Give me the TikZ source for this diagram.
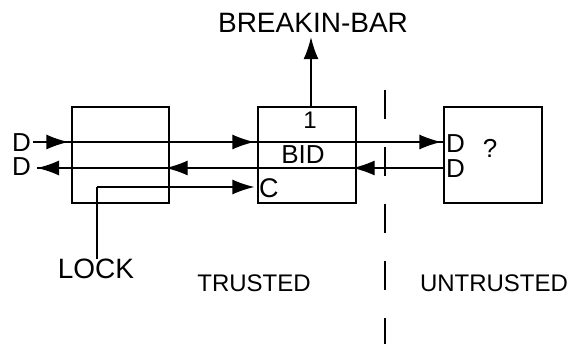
\documentclass[tikz,border=0pt]{standalone}
\usepackage{fontspec}
\setmainfont{Liberation Sans}
\usetikzlibrary{arrows.meta}
\begin{document}
\begin{tikzpicture}[x=1pt,y=-1pt,
  box/.style={draw,line width=1.3pt,inner sep=0pt,minimum height=96pt},
  lbl/.style={inner sep=0pt,anchor=base,font=\fontsize{26}{26}\selectfont},
  ln/.style={line width=1.3pt},
  arr/.style={line width=1.3pt,-{Latex[length=22pt,width=15pt]}}]
\useasboundingbox (0,0) rectangle (572,344);
% boxes
\node[box,minimum width=97pt] (A) at (120.5,155) {};
\node[box,minimum width=98pt] (B) at (307,155) {};
\node[box,minimum width=98pt] (C) at (493,155) {};
% texts
\node[lbl,font=\fontsize{28}{28}\selectfont] (BB) at (313,33) {BREAKIN-BAR};
\node[lbl,font=\fontsize{24}{24}\selectfont] (one) at (310,129) {1};
\node[lbl] (bid) at (303,164) {BID};
\node[lbl,anchor=base west,font=\fontsize{27}{27}\selectfont] (cin) at (259,198) {C};
\node[lbl,anchor=base west] (dl1) at (12,152) {D};
\node[lbl,anchor=base west] (dl2) at (12,176) {D};
\node[lbl,anchor=base west] (dr1) at (446,153) {D};
\node[lbl,anchor=base west] (dr2) at (446,178) {D};
\node[lbl] (q) at (490,158) {?};
\node[lbl,font=\fontsize{28}{28}\selectfont] (LOCK) at (96,279) {LOCK};
\node[lbl,font=\fontsize{24}{24}\selectfont] (tr) at (254,291) {TRUSTED};
\node[lbl,font=\fontsize{24}{24}\selectfont] (untr) at (494,291) {UNTRUSTED};
% coordinates
\coordinate (d1) at (33,142);
\coordinate (d2) at (37,168);
\coordinate (lk) at (97,187);
\coordinate (up) at (311,107);
\coordinate (dt) at (385,90);
\coordinate (db) at (385,344);
% top line
\draw[ln] (d1) -- (C.west |- d1);
\draw[arr,shorten >=3pt] (d1) -- (A.west |- d1);
\draw[arr,shorten >=3pt] (A.west |- d1) -- (B.west |- d1);
\draw[arr,shorten >=2pt] (B.west |- d1) -- (C.west |- d1);
% second line
\draw[ln] (C.west |- d2) -- (d2);
\draw[arr,shorten >=-4pt] (C.west |- d2) -- (B.east |- d2);
\draw[arr,shorten >=-4pt] (B.west |- d2) -- (A.east |- d2);
\draw[arr] (A.west |- d2) -- (d2);
% C line and lock
\draw[arr,shorten >=3pt] (lk) -- (B.west |- lk);
\draw[ln] (lk) -- (lk |- LOCK.north);
% up arrow
\draw[arr,shorten >=4pt] (up) -- (up |- BB.south);
% dashed boundary
\draw[line width=1.3pt,dash pattern=on 29pt off 28pt] (dt) -- (db);
\end{tikzpicture}
\end{document}
